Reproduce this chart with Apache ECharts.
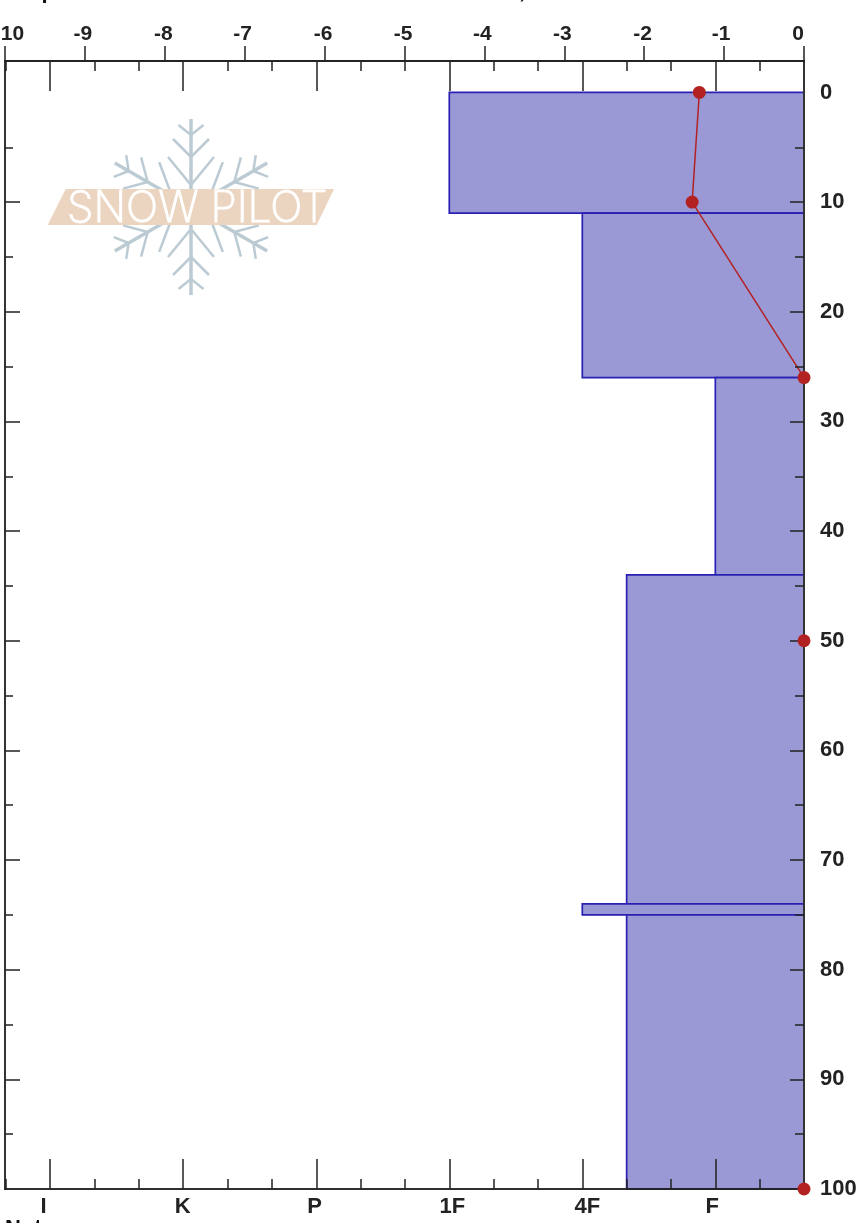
<!DOCTYPE html>
<html>
<head>
<meta charset="utf-8">
<title>Snow profile</title>
<script src="https://cdn.jsdelivr.net/npm/echarts@6/dist/echarts.min.js"></script>
<style>
  html, body { margin: 0; padding: 0; background: #fff; overflow: hidden; }
  #chart { width: 865px; height: 1223px; }
</style>
</head>
<body>
<div id="chart"></div>
<script>
// snow temperature profile
const tempDepth = [0, 10, 26, 50, 100];
const tempValue = [-1.31, -1.4, 0, 0, 0];

// layers, hardness is counted in ticks from the right edge
const layerTop = [0, 11, 26, 44, 74, 75];
const layerBottom = [11, 26, 44, 74, 75, 100];
const layerHardness = [8, 5, 2, 4, 5, 4];

// axis ticks and labels
const tempTicks = [-10, -9, -8, -7, -6, -5, -4, -3, -2, -1, 0];
const depthLong = [10, 20, 30, 40, 50, 60, 70, 80, 90];
const depthShort = [5, 15, 25, 35, 45, 55, 65, 75, 85, 95];
const depthLabels = [0, 10, 20, 30, 40, 50, 60, 70, 80, 90, 100];
const hardLong = [2, 5, 8, 11, 14, 17];
const hardShort = [1, 3, 4, 6, 7, 9, 10, 12, 13, 15, 16, 18];
const hardNames = ['F', '4F', '1F', 'P', 'K', 'I'];

// labels in the picture do not sit exactly on their ticks (px)
const tempNudge = [4, -2, -1.5, -2, -1.5, -1.5, -2, -2, -1.5, -3, -6];
const hardNudge = [-3, 5, 3, -1.7, -0.6, -6.7];

const PX_TEMP = 79.9;
const PX_HARD = 44.33;
const FONT = 'Liberation Sans';
const AXIS = '#222';

const labelFont = {
  fontFamily: FONT,
  fontWeight: 'bold',
  fontSize: 22,
  color: '#222'
};

function hardAxis(position, ticks, length, label) {
  return {
    type: 'value',
    position: position,
    inverse: true,
    min: 0,
    max: 18.02,
    z: 3,
    splitLine: {show: false},
    axisLine: {show: true, onZero: false, lineStyle: {color: AXIS, width: 1.5}},
    axisTick: {show: true, inside: true, length: length, customValues: ticks, lineStyle: {color: AXIS, width: 1.5}},
    axisLabel: label || {show: false}
  };
}

function depthAxis(position, ticks, length, label) {
  return {
    type: 'value',
    position: position,
    inverse: true,
    min: -2.87,
    max: 100,
    z: 3,
    splitLine: {show: false},
    axisLine: {show: true, onZero: false, lineStyle: {color: '#333', width: 2}},
    axisTick: {show: true, inside: true, length: length, customValues: ticks, lineStyle: {color: AXIS, width: 1.5}},
    axisLabel: label || {show: false}
  };
}

const option = {
  animation: false,
  backgroundColor: '#fff',
  grid: {left: 5, right: 61, top: 61, bottom: 34, outerBoundsMode: 'none'},
  xAxis: [
    // temperature scale, outward ticks
    {
      type: 'value',
      position: 'top',
      min: -10,
      max: 0,
      z: 3,
      splitLine: {show: false},
      axisLine: {show: true, onZero: false, lineStyle: {color: AXIS, width: 1.5}},
      axisTick: {show: true, inside: false, length: 15, customValues: tempTicks, lineStyle: {color: AXIS, width: 1.5}},
      axisLabel: Object.assign({}, labelFont, {
        fontSize: 21,
        margin: 16,
        customValues: tempTicks.map((t, i) => t + tempNudge[i] / PX_TEMP),
        formatter: v => String(Math.round(v))
      })
    },
    hardAxis('top', hardLong, 30),
    hardAxis('top', hardShort, 10),
    hardAxis('bottom', hardLong, 30, Object.assign({
      margin: 7,
      customValues: hardLong.map((t, i) => t - hardNudge[i] / PX_HARD),
      formatter: v => hardNames[hardLong.indexOf(Math.round((v + 1) / 3) * 3 - 1)]
    }, labelFont)),
    hardAxis('bottom', hardShort, 10)
  ],
  yAxis: [
    depthAxis('right', depthLong, 14, Object.assign({
      margin: 16,
      customValues: depthLabels,
      formatter: v => String(v)
    }, labelFont)),
    depthAxis('right', depthShort, 9),
    depthAxis('left', depthLong, 15),
    depthAxis('left', depthShort, 8)
  ],
  series: [
    {
      type: 'custom',
      xAxisIndex: 3,
      yAxisIndex: 0,
      z: 2,
      clip: false,
      data: layerTop.map((t, i) => [layerHardness[i], t, layerBottom[i]]),
      encode: {x: 0, y: [1, 2]},
      renderItem: (params, api) => {
        const a = api.coord([api.value(0), api.value(1)]);
        const b = api.coord([0, api.value(2)]);
        return {
          type: 'rect',
          shape: {x: a[0], y: a[1], width: b[0] - a[0], height: b[1] - a[1]},
          style: {fill: '#9b99d5', stroke: '#2a20b4', lineWidth: 1.7}
        };
      }
    },
    {
      type: 'line',
      xAxisIndex: 0,
      yAxisIndex: 0,
      z: 2.5,
      clip: false,
      showSymbol: false,
      data: tempDepth.map((d, i) => [tempValue[i], d]),
      lineStyle: {color: '#b22222', width: 1.5}
    },
    {
      type: 'scatter',
      xAxisIndex: 0,
      yAxisIndex: 0,
      z: 5,
      clip: false,
      symbol: 'circle',
      symbolSize: 13,
      data: tempDepth.map((d, i) => [tempValue[i], d]),
      itemStyle: {color: '#b22222', opacity: 1}
    }
  ],
  graphic: buildGraphic()
};

// snow pilot logo behind the plot, plus the cropped page text
function buildGraphic() {
  const segs = [
    [0, 0, 0, -88, 3.5],
    [0, -22, -23, -50, 2.5], [0, -22, 23, -50, 2.5],
    [0, -50, -18, -68, 2.5], [0, -50, 18, -68, 2.5],
    [0, -72, -12.5, -82, 2.5], [0, -72, 12.5, -82, 2.5]
  ];
  const arms = [0, 1, 2, 3, 4, 5].map(k => ({
    type: 'group',
    x: 191,
    y: 207,
    rotation: k * Math.PI / 3,
    z: -2,
    children: segs.map(s => ({
      type: 'line',
      z: -2,
      shape: {x1: s[0], y1: s[1], x2: s[2], y2: s[3]},
      style: {stroke: '#bccbd3', lineWidth: s[4]}
    }))
  }));
  return arms.concat([
    {
      type: 'polygon',
      z: -1,
      shape: {points: [[65.7, 189], [334, 189], [316.7, 225], [47.7, 225]]},
      style: {fill: '#ecd5c0'}
    },
    {
      type: 'text',
      z: -1,
      x: 67,
      y: 187,
      scaleX: 0.99,
      style: {
        text: 'SNOW PILOT',
        fontFamily: 'Inter',
        fontWeight: 200,
        fontSize: 43,
        lineHeight: 44,
        fill: '#fff',
        stroke: '#fff',
        lineWidth: 1
      }
    },
    {
      type: 'text',
      x: -2,
      y: -19,
      style: {text: 'Temp', fontFamily: FONT, fontWeight: 'bold', fontSize: 22, fill: '#111'}
    },
    {
      type: 'text',
      x: 519,
      y: -19,
      style: {text: ',', fontFamily: FONT, fontWeight: 'bold', fontSize: 22, fill: '#111'}
    },
    {
      type: 'text',
      x: 5,
      y: 1218,
      style: {text: 'Notes', fontFamily: FONT, fontWeight: 'bold', fontSize: 22, fill: '#111'}
    }
  ]);
}

echarts.init(document.getElementById('chart')).setOption(option);
</script>
</body>
</html>
